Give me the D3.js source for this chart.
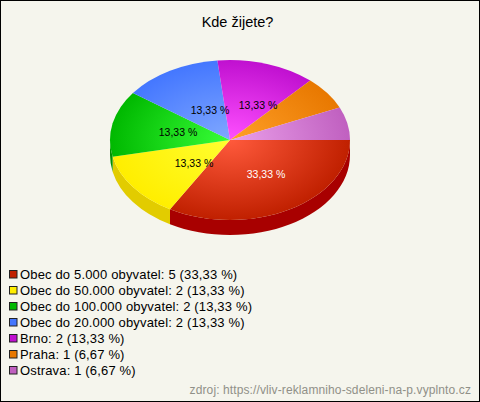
<!DOCTYPE html>
<html><head><meta charset="utf-8">
<script src="https://cdn.jsdelivr.net/npm/d3@7"></script>
<style>html,body{margin:0;padding:0;background:#f5f5ed}svg{display:block}text{font-family:"Liberation Sans",Arial,sans-serif}</style>
</head><body><svg id="c" width="480" height="402"></svg>
<script>
const categories=["Obec do 5.000 obyvatel","Obec do 50.000 obyvatel","Obec do 100.000 obyvatel","Obec do 20.000 obyvatel","Brno","Praha","Ostrava"];
const counts=[5,2,2,2,2,1,1];
const percents=["33,33 %","13,33 %","13,33 %","13,33 %","13,33 %","6,67 %","6,67 %"];
const baseColors=["#c02000","#ffee00","#00b800","#4477ff","#c010d0","#e87800","#c060c0"];
const innerColors=["#ff5a3c","#ffff30","#38ff38","#80a8ff","#ff50ff","#ffa028","#eaa0ea"];
const sideColors=["#a80000","#e2cc00","#009000","#3058c0","#9000a0","#b05800","#905090"];
const showLabel=[true,true,true,true,true,false,false];
const labelColors=["#ffffff","#000000","#000000","#000000","#000000","#000000","#000000"];
const title="Kde žijete?";
const source="zdroj: https://vliv-reklamniho-sdeleni-na-p.vyplnto.cz";

const W=480,H=402,cx=230,cy=140,rx=120,ry=80,depth=15;
const svg=d3.select("#c");
svg.append("rect").attr("x",.5).attr("y",.5).attr("width",W-1).attr("height",H-1).attr("fill","#f5f5ed").attr("stroke","#000");
svg.append("text").attr("x",237.5).attr("y",27).attr("text-anchor","middle").attr("font-size",14.5).text(title);

const pie=d3.pie().sort(null).value(d=>d).startAngle(Math.PI/2).endAngle(Math.PI/2+2*Math.PI);
const arcs=pie(counts);
const arc=d3.arc().innerRadius(0).outerRadius(1);
const px=a=>cx+rx*Math.sin(a), py=a=>cy-ry*Math.cos(a);

const defs=svg.append("defs");
baseColors.forEach((c,i)=>{
  const g=defs.append("radialGradient").attr("id","g"+i).attr("gradientUnits","userSpaceOnUse").attr("cx",0).attr("cy",0).attr("r",1);
  g.append("stop").attr("offset",0).attr("stop-color",innerColors[i]);
  g.append("stop").attr("offset",1).attr("stop-color",c);
});

const lim=Math.PI/2+Math.PI;
svg.append("g").selectAll("path").data(arcs.filter(d=>d.startAngle<lim)).join("path")
  .attr("fill",d=>sideColors[d.index])
  .attr("d",d=>{
    const a0=d.startAngle,a1=Math.min(d.endAngle,lim);
    return `M${px(a0)},${py(a0)}A${rx},${ry} 0 0 1 ${px(a1)},${py(a1)}L${px(a1)},${py(a1)+depth}A${rx},${ry} 0 0 0 ${px(a0)},${py(a0)+depth}Z`;
  });
svg.append("g").attr("transform",`translate(${cx},${cy}) scale(${rx},${ry})`)
  .selectAll("path").data(arcs).join("path").attr("d",arc).attr("fill",d=>`url(#g${d.index})`);

const lx=[266,194,178,210,258];
const ly=[178,167,136,114,109];
svg.append("g").selectAll("text").data(arcs.filter(d=>showLabel[d.index])).join("text")
  .attr("x",d=>lx[d.index]).attr("y",d=>ly[d.index]).attr("text-anchor","middle").attr("font-size",10.5)
  .attr("fill",d=>labelColors[d.index]).text(d=>percents[d.index]);

const legendY=d3.scalePoint().domain(d3.range(categories.length)).range([274,370]);
const lg=svg.append("g").selectAll("g").data(categories).join("g").attr("transform",(d,i)=>`translate(0,${legendY(i)})`);
lg.append("rect").attr("x",9.5).attr("y",-3.5).attr("width",7.5).attr("height",7.5).attr("fill",(d,i)=>baseColors[i]).attr("stroke","#222");
lg.append("text").attr("x",20).attr("y",5).attr("font-size",13).attr("letter-spacing",0.16)
  .text((d,i)=>`${d}: ${counts[i]} (${percents[i]})`);

svg.append("text").attr("x",471).attr("y",394).attr("text-anchor","end").attr("font-size",12).attr("letter-spacing",0.11).attr("fill","#909088").text(source);
</script></body></html>
